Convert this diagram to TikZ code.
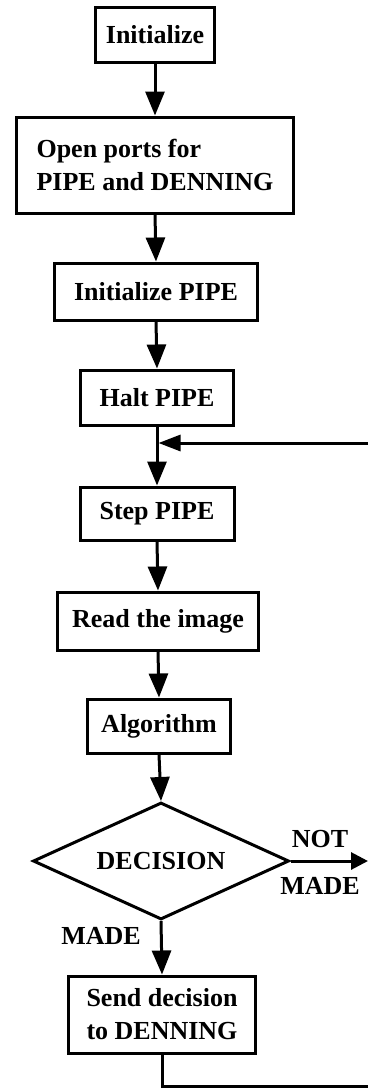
\documentclass[tikz,border=0pt]{standalone}
\usepackage{fontspec}
\setmainfont{Liberation Serif}
\usetikzlibrary{arrows.meta,shapes.geometric}
\begin{document}
\begin{tikzpicture}[x=1pt,y=-1pt,
  every node/.style={font=\fontsize{26}{33}\selectfont\bfseries},
  box/.style={draw,line width=3pt,inner sep=0pt,align=center},
  dec/.style={draw,line width=3pt,shape=diamond,aspect=2.2,inner sep=0pt,minimum width=256pt,minimum height=117pt},
  flow/.style={line width=3pt,-{Triangle[length=24pt,width=19pt]}},
  plain/.style={line width=3pt},
  lbl/.style={inner sep=0pt}]
\useasboundingbox (0,0) rectangle (368,1088);
\fill[white] (0,0) rectangle (368,1088);
\node[box,minimum width=119pt,minimum height=55pt] (init) at (155,34.5) {Initialize};
\node[box,minimum width=277pt,minimum height=96pt,align=left] (open) at (155,165) {Open ports for\\PIPE and DENNING};
\node[box,minimum width=203pt,minimum height=57pt] (ipipe) at (156,291.5) {Initialize PIPE};
\node[box,minimum width=153pt,minimum height=55pt] (halt) at (157,397.5) {Halt PIPE};
\node[box,minimum width=154pt,minimum height=53pt] (stepp) at (157,513.5) {Step PIPE};
\node[box,minimum width=201pt,minimum height=58pt] (read) at (158,621) {Read the image};
\node[box,minimum width=143pt,minimum height=54pt] (alg) at (159,726) {Algorithm};
\node[dec] (decision) at (161,861) {DECISION};
\node[box,minimum width=187pt,minimum height=77pt] (send) at (162,1014.5) {Send decision\\to DENNING};
\node[lbl] (notl) at (320,839) {NOT};
\node[lbl] (madeR) at (320,886) {MADE};
\node[lbl] (madeL) at (101,936) {MADE};
\coordinate (loopR) at (368,443);
\coordinate (notR) at (368,861);
\coordinate (botR) at (368,1086);
\draw[flow] (init.south) -- (open.north);
\draw[flow] (open.south) -- (ipipe.north);
\draw[flow] (ipipe.south) -- (halt.north);
\draw[flow] (halt.south) -- (stepp.north);
\draw[flow] (stepp.south) -- (read.north);
\draw[flow] (read.south) -- (alg.north);
\draw[flow] (alg.south) -- (decision.north);
\draw[flow] (decision.south) -- (send.north);
\draw[line width=3pt,-{Triangle[length=22pt,width=16pt]}] (loopR) -- ([xshift=1.5pt]halt.south |- loopR);
\draw[line width=3pt,-{Triangle[length=17pt,width=17pt]}] (decision.east) -- (notR);
\draw[plain] (send.south) -- (send.south |- botR) -- (botR);
\end{tikzpicture}
\end{document}
